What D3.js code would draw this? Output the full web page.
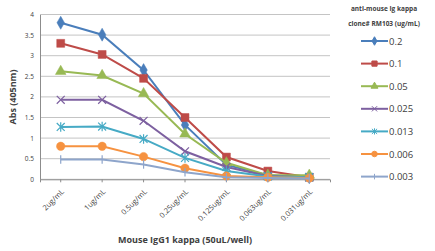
<!DOCTYPE html>
<html>
<head>
<meta charset="utf-8">
<script src="https://cdn.jsdelivr.net/npm/d3@7"></script>
<style>
  body { margin: 0; background: #fff; }
  text { font-family: "Open Sans", "Liberation Sans", sans-serif; fill: #404040; }
</style>
</head>
<body>
<div class="chart"></div>
<script>
// data
var categories = ["2ug/mL", "1ug/mL", "0.5ug/mL", "0.25ug/mL", "0.125ug/mL", "0.063ug/mL", "0.031ug/mL"];
var seriesNames = ["0.2", "0.1", "0.05", "0.025", "0.013", "0.006", "0.003"];
var s02 = [3.8, 3.51, 2.65, 1.32, 0.35, 0.1, 0.05];
var s01 = [3.3, 3.03, 2.45, 1.5, 0.54, 0.2, 0.05];
var s005 = [2.62, 2.52, 2.08, 1.1, 0.4, 0.1, 0.1];
var s0025 = [1.93, 1.93, 1.42, 0.68, 0.3, 0.08, 0.05];
var s0013 = [1.27, 1.28, 0.98, 0.52, 0.2, 0.07, 0.05];
var s0006 = [0.8, 0.8, 0.55, 0.27, 0.08, 0.05, 0.03];
var s0003 = [0.48, 0.48, 0.36, 0.17, 0.05, 0.03, 0.02];
var yTicks = [0, 0.5, 1, 1.5, 2, 2.5, 3, 3.5, 4];

var allSeries = [s02, s01, s005, s0025, s0013, s0006, s0003];
var colors = ["#4A7EBB", "#BE4B48", "#98B954", "#7D60A0", "#46AAC5", "#F69240", "#8EA5CB"];
var markers = ["diamond", "square", "triangle", "x", "star", "circle", "plus"];

var width = 435, height = 251;
var plotLeft = 40, plotRight = 330, plotTop = 14.5, plotBottom = 179.3;

var svg = d3.select(".chart").append("svg")
    .attr("width", width)
    .attr("height", height);

var x = d3.scaleBand().domain(categories).range([plotLeft, plotRight]);
var y = d3.scaleLinear().domain([0, 4]).range([plotBottom, plotTop]);

//gridlines
svg.append("g").selectAll("line")
    .data(yTicks)
    .enter().append("line")
    .attr("x1", plotLeft).attr("x2", plotRight)
    .attr("y1", function(d) { return y(d); })
    .attr("y2", function(d) { return y(d); })
    .attr("stroke", "#c4c4c4")
    .attr("stroke-width", 1);

//y axis
var yAxis = svg.append("g")
    .attr("transform", "translate(" + plotLeft + ",0)")
    .call(d3.axisLeft(y).tickValues(yTicks).tickSize(0).tickPadding(6).tickFormat(d3.format("")));
yAxis.select(".domain").attr("stroke", "#8c8c8c");
yAxis.selectAll("text").style("font-size", "6.5px").style("fill", "#404040");

//x axis
var xAxis = svg.append("g")
    .attr("transform", "translate(0," + plotBottom + ")")
    .call(d3.axisBottom(x).tickSize(3));
xAxis.select(".domain").attr("stroke", "#8c8c8c");
xAxis.selectAll(".tick line").attr("stroke", "#8c8c8c");
xAxis.selectAll("text")
    .style("font-size", "7.5px")
    .style("fill", "#404040")
    .attr("text-anchor", "end")
    .attr("x", 0).attr("y", 0).attr("dy", "0.35em")
    .attr("transform", "translate(2,11) rotate(-45)");

//symbols
function markerPath(type, size) {
    var s = size;
    switch (type) {
        case "diamond": return d3.symbol().type(d3.symbolDiamond).size(s * 7)();
        case "square": return d3.symbol().type(d3.symbolSquare).size(s * 9)();
        case "triangle": return d3.symbol().type(d3.symbolTriangle).size(s * 7)();
        case "circle": return d3.symbol().type(d3.symbolCircle).size(s * 8)();
        case "x": var r = Math.sqrt(s) * 1.5; return "M" + -r + "," + -r + "L" + r + "," + r + "M" + -r + "," + r + "L" + r + "," + -r;
        case "star": var a = Math.sqrt(s) * 1.5;
            return "M" + -a + "," + -a + "L" + a + "," + a + "M" + -a + "," + a + "L" + a + "," + -a + "M0," + -a * 1.2 + "L0," + a * 1.2;
        case "plus": var p = Math.sqrt(s) * 1.6; return "M0," + -p + "L0," + p;
    }
}

var line = d3.line()
    .x(function(d, i) { return x(categories[i]) + x.bandwidth() / 2; })
    .y(function(d) { return y(d); });

allSeries.forEach(function(vals, k) {
    var g = svg.append("g");
    g.append("path")
        .attr("d", line(vals))
        .attr("fill", "none")
        .attr("stroke", colors[k])
        .attr("stroke-width", 2);
    g.selectAll("path.m")
        .data(vals)
        .enter().append("path")
        .attr("class", "m")
        .attr("transform", function(d, i) {
            return "translate(" + (x(categories[i]) + x.bandwidth() / 2) + "," + y(d) + ")";
        })
        .attr("d", markerPath(markers[k], 7))
        .attr("fill", colors[k])
        .attr("stroke", colors[k])
        .attr("stroke-width", (markers[k] == "x" || markers[k] == "star" || markers[k] == "plus") ? 1.2 : 0.5);
});

//legend
svg.append("text").attr("x", 384).attr("y", 11).attr("text-anchor", "middle")
    .style("font-size", "6.5px").style("font-weight", "bold").text("anti-mouse Ig kappa");
svg.append("text").attr("x", 384).attr("y", 26).attr("text-anchor", "middle")
    .style("font-size", "6.5px").style("font-weight", "bold").text("clone# RM103 (ug/mL)");

var legend = svg.append("g").selectAll("g")
    .data(seriesNames)
    .enter().append("g")
    .attr("transform", function(d, i) { return "translate(361," + (41 + i * 22.6) + ")"; });
legend.append("line")
    .attr("x1", 0).attr("x2", 27)
    .attr("stroke", function(d, i) { return colors[i]; })
    .attr("stroke-width", 2);
legend.append("path")
    .attr("transform", "translate(13.5,0)")
    .attr("d", function(d, i) { return markerPath(markers[i], 3); })
    .attr("fill", function(d, i) { return colors[i]; })
    .attr("stroke", function(d, i) { return colors[i]; })
    .attr("stroke-width", 1);
legend.append("text")
    .attr("x", 28).attr("y", 3.5)
    .style("font-size", "9.5px")
    .text(function(d) { return d; });

//axis titles
svg.append("text")
    .attr("x", 185).attr("y", 243)
    .attr("text-anchor", "middle")
    .style("font-size", "9px").style("font-weight", "bold")
    .text("Mouse IgG1 kappa (50uL/well)");
svg.append("text")
    .attr("transform", "translate(16,97) rotate(-90)")
    .attr("text-anchor", "middle")
    .style("font-size", "9px").style("font-weight", "bold")
    .text("Abs (405nm)");
</script>
</body>
</html>
